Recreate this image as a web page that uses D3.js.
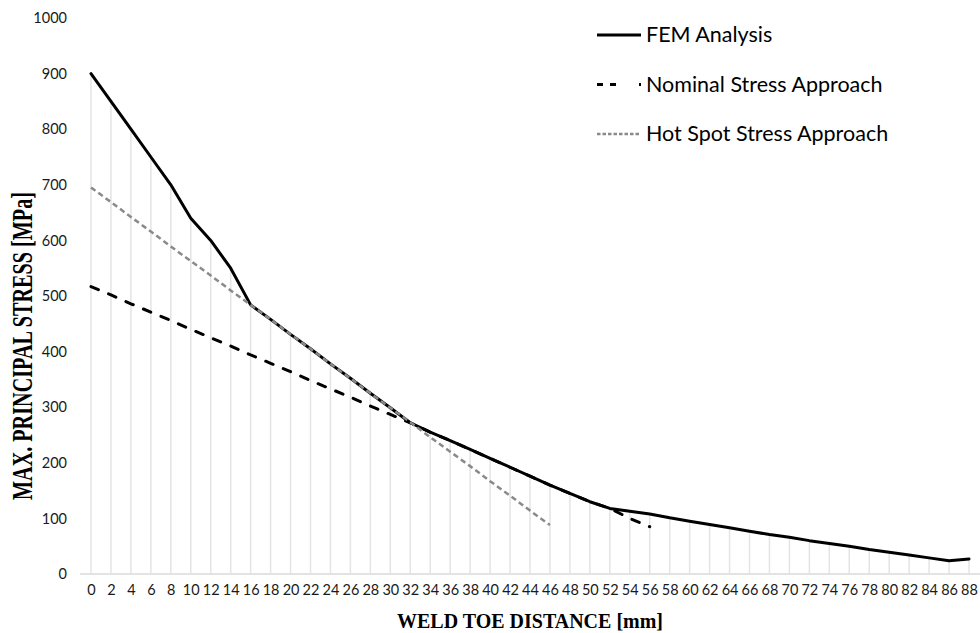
<!DOCTYPE html>
<html>
<head>
<meta charset="utf-8">
<script src="https://cdn.jsdelivr.net/npm/d3@7"></script>
<style>
  body { margin: 0; background: #fff; }
  svg { display: block; }
</style>
</head>
<body>
<svg id="chart"></svg>
<script>
// weld toe distance categories [mm]
const distances = [0,2,4,6,8,10,12,14,16,18,20,22,24,26,28,30,32,34,36,38,40,42,44,
  46,48,50,52,54,56,58,60,62,64,66,68,70,72,74,76,78,80,82,84,86,88];

// max. principal stress [MPa], one value per category from 0 mm
const femValues = [900,850,800,750,700,640,600,550,484,458,431,405,378,352,325,299,272,
  255,240,224,208,192,176,160,145,130,118,113,108,101,95,89,83,77,71,66,60,55,50,44,39,34,29,24,27];
const nominalValues = [517,502,486,471,456,440,425,410,394,379,364,348,333,318,302,287,272,
  255,240,224,208,192,176,160,145,130,118,100,85];
const hotSpotValues = [695,669,642,616,589,563,537,510,484,458,431,405,378,352,325,299,273,
  246,220,194,167,141,114,88];

const yTicks = [0,100,200,300,400,500,600,700,800,900,1000];

const seriesNames = ["FEM Analysis", "Nominal Stress Approach", "Hot Spot Stress Approach"];

const width = 980, height = 633;

const svg = d3.select("#chart")
  .attr("width", width)
  .attr("height", height);

const x = d3.scalePoint()
  .domain(distances)
  .range([91, 969]);

const y = d3.scaleLinear()
  .domain([0, 1000])
  .range([574, 18]);

const series = [
  { name: seriesNames[0], values: femValues, color: "#000", width: 3, dash: null, cap: "round", key: null },
  { name: seriesNames[1], values: nominalValues, color: "#000", width: 3, dash: "8,11", cap: "round", key: "6,7,6,23,2" },
  { name: seriesNames[2], values: hotSpotValues, color: "#8a8a8a", width: 2.5, dash: "5.5,3.5", cap: "butt", key: "3.5,2" }
];

// drop lines from the highest point at each category down to the axis
const dropTop = distances.map((d, i) => d3.max(series, s => s.values[i]));
svg.append("g")
  .selectAll("line")
  .data(distances)
  .join("line")
  .attr("x1", d => x(d))
  .attr("x2", d => x(d))
  .attr("y1", (d, i) => y(dropTop[i]))
  .attr("y2", y(0))
  .attr("stroke", "#e4e4e4")
  .attr("stroke-width", 1.5);

// horizontal category axis line
svg.append("line")
  .attr("x1", 80).attr("x2", 980)
  .attr("y1", y(0)).attr("y2", y(0))
  .attr("stroke", "#e3e3e3")
  .attr("stroke-width", 2);

// y tick labels (no axis line)
const yAxis = svg.append("g")
  .attr("transform", "translate(67,0)")
  .call(d3.axisLeft(y).tickValues(yTicks).tickFormat(d3.format("d")).tickSize(0).tickPadding(0));
yAxis.select(".domain").remove();
yAxis.selectAll("text")
  .attr("font-family", "Lato, 'Open Sans', sans-serif")
  .attr("font-size", 14.5)
  .attr("fill", "#1a1a1a");

// x tick labels
const xAxis = svg.append("g")
  .attr("transform", `translate(0,${y(0)})`)
  .call(d3.axisBottom(x).tickSize(0).tickPadding(11));
xAxis.select(".domain").remove();
xAxis.selectAll("text")
  .attr("font-family", "Lato, 'Open Sans', sans-serif")
  .attr("font-size", 14.5)
  .attr("fill", "#1a1a1a");

// series lines
const line = d3.line()
  .x((v, i) => x(distances[i]))
  .y(v => y(v));

svg.append("g")
  .selectAll("path")
  .data(series)
  .join("path")
  .attr("d", s => line(s.values))
  .attr("fill", "none")
  .attr("stroke", s => s.color)
  .attr("stroke-width", s => s.width)
  .attr("stroke-dasharray", s => s.dash)
  .attr("stroke-linecap", s => s.cap)
  .attr("stroke-linejoin", "round");

// legend
const legend = svg.append("g")
  .attr("transform", "translate(597,35)");

const legendItem = legend.selectAll("g")
  .data(series)
  .join("g")
  .attr("transform", (s, i) => `translate(0,${i * 49.5})`);

legendItem.append("line")
  .attr("x1", 0)
  .attr("x2", 44)
  .attr("stroke", s => s.color)
  .attr("stroke-width", s => s.width)
  .attr("stroke-dasharray", s => s.key)
  .attr("stroke-linecap", "butt");

legendItem.append("text")
  .attr("x", 49)
  .attr("y", 7)
  .attr("font-family", "Lato, 'Open Sans', sans-serif")
  .attr("font-size", 21.5)
  .attr("fill", "#000")
  .text(s => s.name);

// axis titles
svg.append("text")
  .attr("transform", "translate(32,346) rotate(-90)")
  .attr("text-anchor", "middle")
  .attr("font-family", "'Liberation Serif', 'Times New Roman', serif")
  .attr("font-weight", "bold")
  .attr("font-size", 29)
  .attr("textLength", 308)
  .attr("lengthAdjust", "spacingAndGlyphs")
  .text("MAX. PRINCIPAL STRESS [MPa]");

svg.append("text")
  .attr("x", 530)
  .attr("y", 628)
  .attr("text-anchor", "middle")
  .attr("font-family", "'Liberation Serif', 'Times New Roman', serif")
  .attr("font-weight", "bold")
  .attr("font-size", 22)
  .attr("textLength", 266)
  .attr("lengthAdjust", "spacingAndGlyphs")
  .text("WELD TOE DISTANCE [mm]");
</script>
</body>
</html>
